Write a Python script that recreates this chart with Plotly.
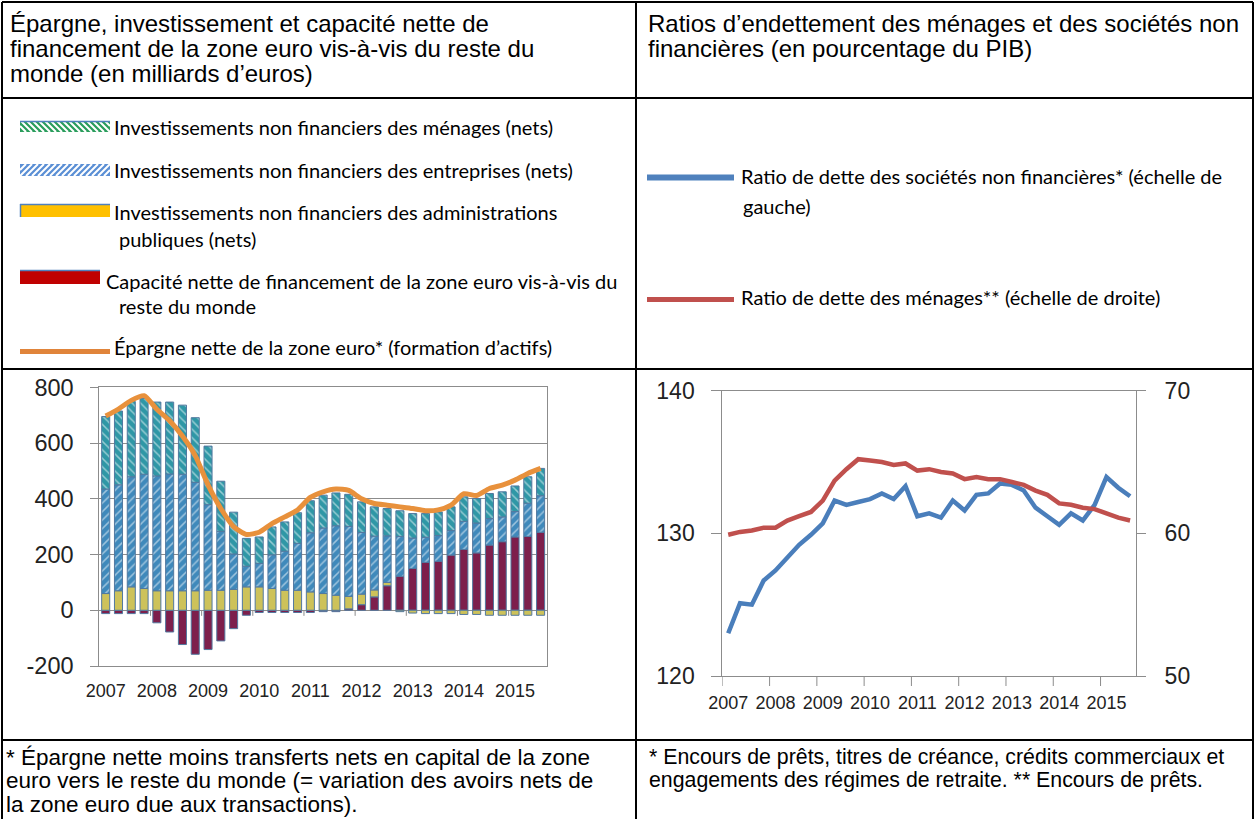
import plotly.graph_objects as go

W, H = 1255, 819

# ---------------- data ----------------
quarters = ["2007Q1", "2007Q2", "2007Q3", "2007Q4", "2008Q1", "2008Q2", "2008Q3", "2008Q4",
            "2009Q1", "2009Q2", "2009Q3", "2009Q4", "2010Q1", "2010Q2", "2010Q3", "2010Q4",
            "2011Q1", "2011Q2", "2011Q3", "2011Q4", "2012Q1", "2012Q2", "2012Q3", "2012Q4",
            "2013Q1", "2013Q2", "2013Q3", "2013Q4", "2014Q1", "2014Q2", "2014Q3", "2014Q4",
            "2015Q1", "2015Q2", "2015Q3"]
year_labels = ["2007", "2008", "2009", "2010", "2011", "2012", "2013", "2014", "2015"]
year_first_q = ["2007Q1", "2008Q1", "2009Q1", "2010Q1", "2011Q1", "2012Q1", "2013Q1", "2014Q1", "2015Q1"]
bar_y_ticks = [-200, 0, 200, 400, 600, 800]
bar_y_labels = ["-200", "0", "200", "400", "600", "800"]

# left chart (EUR billions)
hh_invest = [260, 265, 270, 272, 265, 258, 248, 232, 210, 180, 150, 100, 95, 100, 105, 110, 115, 118,
             118, 115, 110, 105, 98, 92, 88, 85, 85, 85, 88, 88, 90, 90, 92, 95, 98]
corp_invest = [375, 380, 395, 410, 412, 419, 418, 389, 307, 211, 127, 74, 84, 121, 140, 168, 212, 235,
               249, 251, 221, 193, 167, 143, 109, 90, 92, 88, 101, 107, 95, 89, 91, 119, 131]
gov_invest = [60, 70, 84, 78, 70, 70, 70, 70, 72, 72, 75, 84, 84, 78, 72, 72, 66, 60,
              54, 45, 38, 25, 12, -5, -10, -12, -12, -12, -15, -15, -18, -18, -18, -18, -18]
net_lending = [-12, -12, -12, -12, -45, -78, -123, -158, -141, -110, -66, -18, -8, -8, -8, -8, -8, -5,
               -5, 5, 20, 48, 88, 122, 150, 172, 176, 198, 218, 206, 234, 246, 263, 265, 280]
net_saving = [697, 722, 753, 770, 721, 680, 625, 555, 450, 365, 300, 272, 280, 311, 335, 360, 405, 425,
              435, 430, 400, 383, 377, 371, 365, 357, 360, 377, 418, 412, 437, 449, 467, 491, 509]

# right chart (% of GDP)
nfc_debt = [123.0, 125.1, 125.0, 126.7, 127.4, 128.3, 129.2, 129.9, 130.7, 132.3, 132.0, 132.2,
            132.4, 132.8, 132.4, 133.3, 131.2, 131.4, 131.1, 132.3, 131.6, 132.7, 132.8, 133.5,
            133.4, 133.0, 131.8, 131.2, 130.6, 131.4, 130.9, 132.0, 133.95, 133.2, 132.6]
hh_debt = [59.9, 60.1, 60.2, 60.4, 60.4, 60.9, 61.2, 61.5, 62.3, 63.7, 64.5, 65.2,
           65.1, 65.0, 64.8, 64.9, 64.4, 64.5, 64.3, 64.2, 63.8, 63.95, 63.8, 63.8,
           63.6, 63.4, 63.0, 62.7, 62.1, 62.0, 61.8, 61.7, 61.4, 61.1, 60.9]

# ---------------- helpers ----------------
def PX(x):
    return x / W


def PY(y):
    return 1 - y / H


shapes = []
annotations = []


def hline(x0, x1, y, color="black", width=2):
    shapes.append(dict(type="line", xref="paper", yref="paper", x0=PX(x0), x1=PX(x1),
                       y0=PY(y), y1=PY(y), line=dict(color=color, width=width)))


def vline(x, y0, y1, color="black", width=2):
    shapes.append(dict(type="line", xref="paper", yref="paper", x0=PX(x), x1=PX(x),
                       y0=PY(y0), y1=PY(y1), line=dict(color=color, width=width)))


def rect(x0, y0, x1, y1, fill, line_color=None, lw=0):
    shapes.append(dict(type="rect", xref="paper", yref="paper", x0=PX(x0), x1=PX(x1),
                       y0=PY(y1), y1=PY(y0), fillcolor=fill,
                       line=dict(color=line_color or fill, width=lw)))


def hatch(x0, y0, x1, y1, color, step, forward=True, lw=2):
    h = y1 - y0
    parts = []
    x = x0 - h
    while x < x1:
        if forward:  # "/" : bottom-left to top-right
            sx, sy, ex, ey = x, y1, x + h, y0
        else:        # "\" : top-left to bottom-right
            sx, sy, ex, ey = x, y0, x + h, y1
        if sx < x0:
            t = x0 - sx
            sy = sy - t if forward else sy + t
            sx = x0
        if ex > x1:
            t = ex - x1
            ey = ey + t if forward else ey - t
            ex = x1
        if ex > sx:
            parts.append(f"M {PX(sx):.5f} {PY(sy):.5f} L {PX(ex):.5f} {PY(ey):.5f}")
        x += step
    shapes.append(dict(type="path", xref="paper", yref="paper", path=" ".join(parts),
                       line=dict(color=color, width=lw)))


def text(x, y, s, size, family="Liberation Sans", color="black"):
    annotations.append(dict(x=PX(x), y=PY(y), xref="paper", yref="paper", text=s,
                            showarrow=False, xanchor="left", yanchor="middle",
                            font=dict(size=size, family=family, color=color)))


# ---------------- figure ----------------
fig = go.Figure()

HH_COL = "#2f97a6"
CORP_COL = "#3f89bb"
GOV_COL = "#cdc25a"
NL_COL = "#7d1f4c"
EDGE = "#52789f"

fig.add_trace(go.Bar(x=quarters, y=net_lending, name="Capacité nette de financement",
                     marker=dict(color=NL_COL, line=dict(color=EDGE, width=1)),
                     xaxis="x", yaxis="y"))
fig.add_trace(go.Bar(x=quarters, y=gov_invest, name="Administrations publiques",
                     marker=dict(color=GOV_COL, line=dict(color=EDGE, width=1)),
                     xaxis="x", yaxis="y"))
fig.add_trace(go.Bar(x=quarters, y=corp_invest, name="Entreprises",
                     marker=dict(color=CORP_COL, line=dict(color=EDGE, width=1),
                                 pattern=dict(shape="/", fgcolor="white", bgcolor=CORP_COL,
                                              size=6, solidity=0.25, fillmode="overlay")),
                     xaxis="x", yaxis="y"))
fig.add_trace(go.Bar(x=quarters, y=hh_invest, name="Ménages",
                     marker=dict(color=HH_COL, line=dict(color=EDGE, width=1),
                                 pattern=dict(shape="\\", fgcolor="white", bgcolor=HH_COL,
                                              size=6, solidity=0.25, fillmode="overlay")),
                     xaxis="x", yaxis="y"))
fig.add_trace(go.Scatter(x=quarters, y=net_saving, mode="lines", name="Épargne nette",
                         line=dict(color="#e8913c", width=5, shape="spline", smoothing=0.6),
                         xaxis="x", yaxis="y"))

fig.add_trace(go.Scatter(x=quarters, y=nfc_debt, mode="lines", name="SNF",
                         line=dict(color="#4a7ebb", width=4.5), xaxis="x2", yaxis="y2"))
fig.add_trace(go.Scatter(x=quarters, y=hh_debt, mode="lines", name="Ménages",
                         line=dict(color="#c0504d", width=4.5), xaxis="x2", yaxis="y3"))

GRAY = "#8c8c8c"
AX_FONT = dict(family="Liberation Sans", size=18, color="#222222")

fig.update_layout(
    width=W, height=H, margin=dict(l=0, r=0, t=0, b=0, pad=0, autoexpand=False),
    paper_bgcolor="white", plot_bgcolor="white",
    showlegend=False, barmode="relative", bargap=0.37,
    xaxis=dict(domain=[PX(99.3), PX(547)], anchor="y", type="category", automargin=False,
               range=[-0.5, 34.5], tickmode="array", tickvals=year_first_q, ticktext=year_labels,
               showline=True, mirror=True, linecolor=GRAY, linewidth=1, ticks="",
               showgrid=False, tickfont=AX_FONT, ticklabelstandoff=8),
    yaxis=dict(domain=[PY(666), PY(387.3)], anchor="x", range=[-200, 800],
               tickmode="array", tickvals=bar_y_ticks, ticktext=bar_y_labels,
               automargin=False,
               showgrid=True, gridcolor=GRAY, gridwidth=1, showline=True, mirror=True,
               linecolor=GRAY, zeroline=True, zerolinecolor=GRAY, zerolinewidth=1,
               ticks="outside", ticklen=8, tickcolor=GRAY,
               tickfont=dict(family="Liberation Sans", size=23.5, color="#222222"),
               ticklabelstandoff=12),
    xaxis2=dict(domain=[PX(722.3), PX(1136)], anchor="y2", type="category", automargin=False,
                range=[-0.5, 34.5], tickmode="array", tickvals=year_first_q, ticktext=year_labels,
                showline=True, mirror=True, linecolor=GRAY, linewidth=1, ticks="",
                showgrid=False, tickfont=AX_FONT, ticklabelstandoff=10),
    yaxis2=dict(domain=[PY(676), PY(390.7)], anchor="x2", range=[120, 140], dtick=10,
                automargin=False,
                showgrid=False, showline=True, linecolor=GRAY, zeroline=False,
                ticks="outside", ticklen=10, tickcolor=GRAY,
                tickfont=dict(family="Liberation Sans", size=23, color="#222222"),
                ticklabelstandoff=12),
    yaxis3=dict(overlaying="y2", side="right", anchor="x2", range=[50, 70], dtick=10,
                automargin=False,
                showgrid=False, showline=True, linecolor=GRAY, zeroline=False,
                ticks="outside", ticklen=9, tickcolor=GRAY,
                tickfont=dict(family="Liberation Sans", size=23, color="#222222"),
                ticklabelstandoff=14),
)

# tick marks on the zero line of the bar chart (year boundaries)
for j in range(1, 9):
    shapes.append(dict(type="line", xref="x", yref="y", x0=4 * j - 0.5, x1=4 * j - 0.5,
                       y0=0, y1=-20, line=dict(color=GRAY, width=1)))
# tick marks on the bottom axis of the line chart (year boundaries)
for j in range(0, 9):
    shapes.append(dict(type="line", xref="x2", yref="paper", x0=4 * j - 0.5, x1=4 * j - 0.5,
                       y0=PY(676), y1=PY(686), line=dict(color=GRAY, width=1)))

# ---------------- table borders ----------------
hline(2, 1253, 2)
hline(2, 1253, 98)
hline(2, 1253, 369)
hline(2, 1253, 740)
vline(2, 2, 819)
vline(1253, 2, 819)
vline(636, 2, 819)

# ---------------- header ----------------
HF = "Liberation Sans"
text(8, 23, "Épargne, investissement et capacité nette de", 24, HF)
text(8, 48, "financement de la zone euro vis-à-vis du reste du", 24, HF)
text(8, 73, "monde (en milliards d’euros)", 24, HF)
text(646, 23, "Ratios d’endettement des ménages et des sociétés non", 24, HF)
text(646, 48, "financières (en pourcentage du PIB)", 24, HF)

# ---------------- legend (left) ----------------
LF = "Lato"
LS = 20
# households
rect(20, 121, 110, 132, "#2a9d5c")
hatch(20, 121, 110, 132, "white", 6, forward=False, lw=2)
hline(20, 110, 121.5, "#4f81bd", 1.5)
text(112, 127, "Investissements non financiers des ménages (nets)", LS, LF)
# corporations
rect(20, 164, 110, 176, "#5b8fd5")
hatch(20, 164, 110, 176, "white", 6, forward=True, lw=2)
text(112, 170, "Investissements non financiers des entreprises (nets)", LS, LF)
# government
rect(20, 204, 110, 217, "#ffc000")
hline(20, 110, 204.5, "#4f81bd", 1.5)
vline(20.5, 204, 217, "#4f81bd", 1.5)
text(112, 212, "Investissements non financiers des administrations", LS, LF)
text(117, 239, "publiques (nets)", LS, LF)
# net lending
rect(20, 270, 100, 284, "#c00000")
hline(20, 100, 270.5, "#4f81bd", 1.5)
text(104, 281, "Capacité nette de financement de la zone euro vis-à-vis du", LS, LF)
text(117, 306, "reste du monde", LS, LF)
# saving line
hline(20, 110, 351.5, "#e0843a", 5)
text(112, 347, "Épargne nette de la zone euro* (formation d’actifs)", LS, LF)

# ---------------- legend (right) ----------------
hline(647, 734, 177.5, "#4f81bd", 6)
text(739, 176, "Ratio de dette des sociétés non financières* (échelle de", LS, LF)
text(741, 206, "gauche)", LS, LF)
hline(647, 734, 299.5, "#c0504d", 5)
text(739, 297, "Ratio de dette des ménages** (échelle de droite)", LS, LF)

# ---------------- footnotes ----------------
text(4, 757, "* Épargne nette moins transferts nets en capital de la zone", 22.5, HF)
text(4, 780.5, "euro vers le reste du monde (= variation des avoirs nets de", 22.5, HF)
text(4, 804, "la zone euro due aux transactions).", 22.5, HF)
text(647, 757, "* Encours de prêts, titres de créance, crédits commerciaux et", 21.3, HF)
text(647, 780, "engagements des régimes de retraite. ** Encours de prêts.", 21.3, HF)

fig.update_layout(shapes=shapes, annotations=annotations)
fig.write_html("out.html", config={"displayModeBar": False},
               post_script="document.body.style.margin='0';document.body.style.overflow='hidden';")
